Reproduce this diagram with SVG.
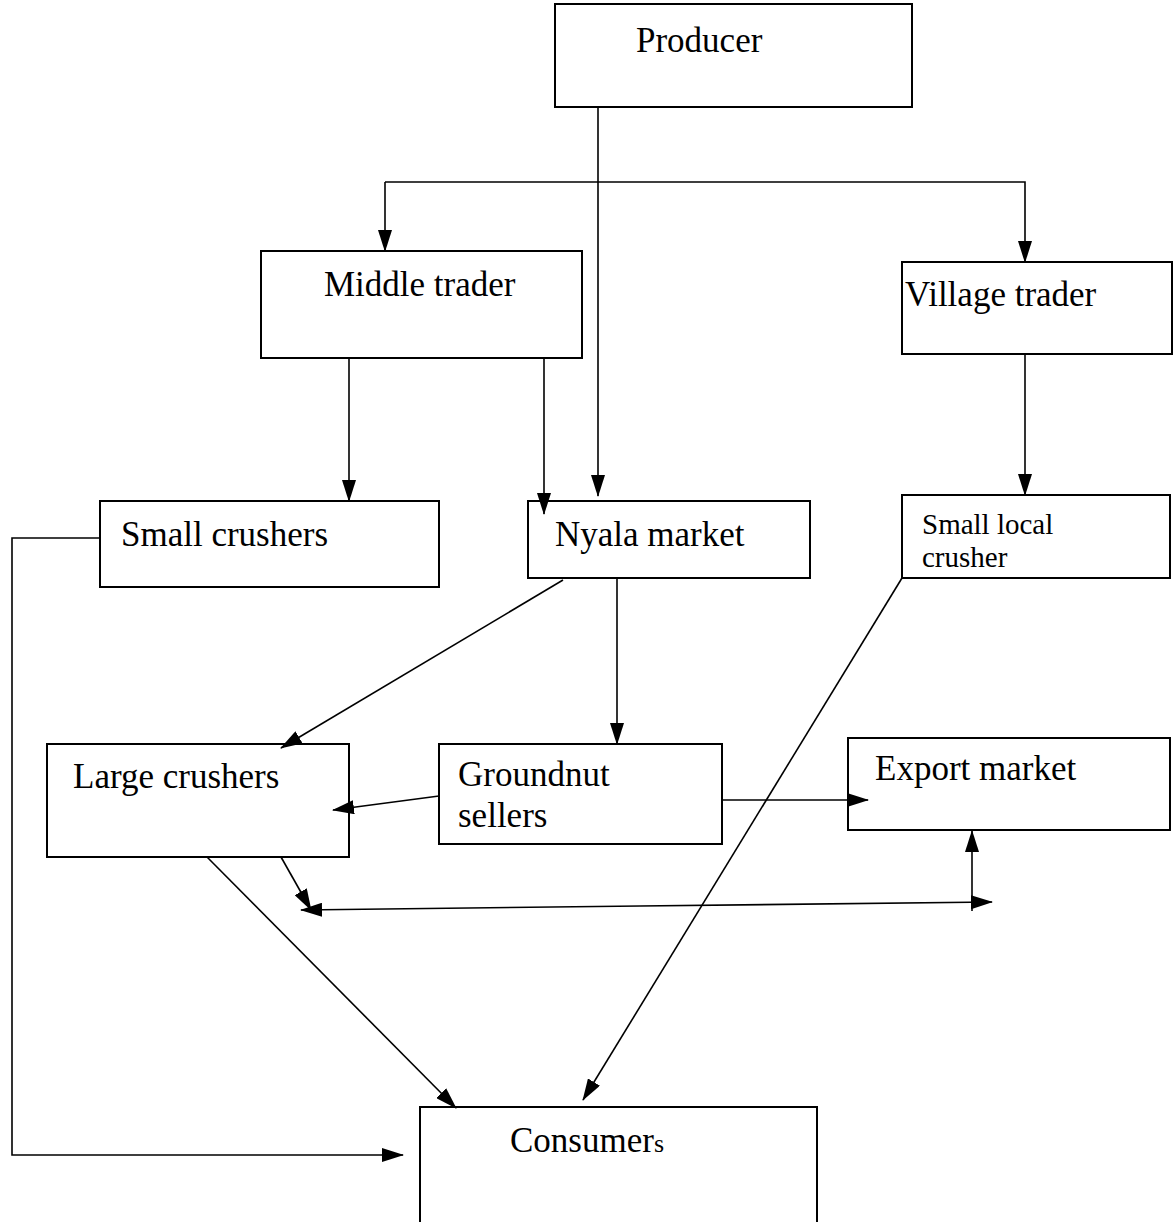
<svg xmlns="http://www.w3.org/2000/svg" width="1174" height="1222" viewBox="0 0 1174 1222">
<style>
.box{fill:#fff;stroke:#000;stroke-width:2}
.t{font-family:"Liberation Serif","Times New Roman",serif;font-size:35px;fill:#000}
.ts{font-family:"Liberation Serif","Times New Roman",serif;font-size:29px;fill:#000}
.c{fill:none;stroke:#000;stroke-width:1.6}
</style>
<defs>
<marker id="ah" markerWidth="22" markerHeight="14" refX="21" refY="7" orient="auto" markerUnits="userSpaceOnUse">
<path d="M0,0 L22,7 L0,14 Z" fill="#000"/>
</marker>
</defs>
<rect width="1174" height="1222" fill="#fff"/>
<g id="producer"><rect class="box" x="555" y="4" width="357" height="103"/><text class="t" x="636" y="52">Producer</text></g>
<g id="middle-trader"><rect class="box" x="261" y="251" width="321" height="107"/><text class="t" x="324" y="296">Middle trader</text></g>
<g id="village-trader"><rect class="box" x="902" y="262" width="270" height="92"/><text class="t" x="905" y="306">Village trader</text></g>
<g id="small-crushers"><rect class="box" x="100" y="501" width="339" height="86"/><text class="t" x="121" y="546">Small crushers</text></g>
<g id="nyala-market"><rect class="box" x="528" y="501" width="282" height="77"/><text class="t" x="555" y="546">Nyala market</text></g>
<g id="small-local-crusher"><rect class="box" x="902" y="495" width="268" height="83"/><text class="ts" x="922" y="534">Small local</text><text class="ts" x="922" y="567">crusher</text></g>
<g id="large-crushers"><rect class="box" x="47" y="744" width="302" height="113"/><text class="t" x="73" y="788">Large crushers</text></g>
<g id="groundnut-sellers"><rect class="box" x="439" y="744" width="283" height="100"/><text class="t" x="458" y="786">Groundnut</text><text class="t" x="458" y="827">sellers</text></g>
<g id="export-market"><rect class="box" x="848" y="738" width="322" height="92"/><text class="t" x="875" y="780">Export market</text></g>
<g id="consumers"><rect class="box" x="420" y="1107" width="397" height="120"/><text class="t" x="510" y="1152">Consumer<tspan font-size="26">s</tspan></text></g>
<g id="connectors">
<line class="c" x1="598" y1="107" x2="598" y2="496" marker-end="url(#ah)"/>
<polyline class="c" points="385,182 1025,182 1025,262" marker-end="url(#ah)"/>
<line class="c" x1="385" y1="182" x2="385" y2="251" marker-end="url(#ah)"/>
<line class="c" x1="349" y1="358" x2="349" y2="501" marker-end="url(#ah)"/>
<line class="c" x1="544" y1="358" x2="544" y2="514" marker-end="url(#ah)"/>
<line class="c" x1="1025" y1="354" x2="1025" y2="495" marker-end="url(#ah)"/>
<polyline class="c" points="100,538 12,538 12,1155 403,1155" marker-end="url(#ah)"/>
<line class="c" x1="563" y1="580" x2="281" y2="748" marker-end="url(#ah)"/>
<line class="c" x1="617" y1="578" x2="617" y2="744" marker-end="url(#ah)"/>
<line class="c" x1="439" y1="796" x2="333" y2="810" marker-end="url(#ah)"/>
<line class="c" x1="722" y1="800" x2="868" y2="800" marker-end="url(#ah)"/>
<line class="c" x1="281" y1="857" x2="311" y2="910" marker-end="url(#ah)"/>
<line class="c" x1="640" y1="906" x2="301" y2="910" marker-end="url(#ah)"/>
<line class="c" x1="640" y1="906" x2="992" y2="902" marker-end="url(#ah)"/>
<line class="c" x1="972" y1="911" x2="972" y2="831" marker-end="url(#ah)"/>
<line class="c" x1="207" y1="857" x2="456" y2="1108" marker-end="url(#ah)"/>
<line class="c" x1="902" y1="578" x2="583" y2="1100" marker-end="url(#ah)"/>
</g>
</svg>
